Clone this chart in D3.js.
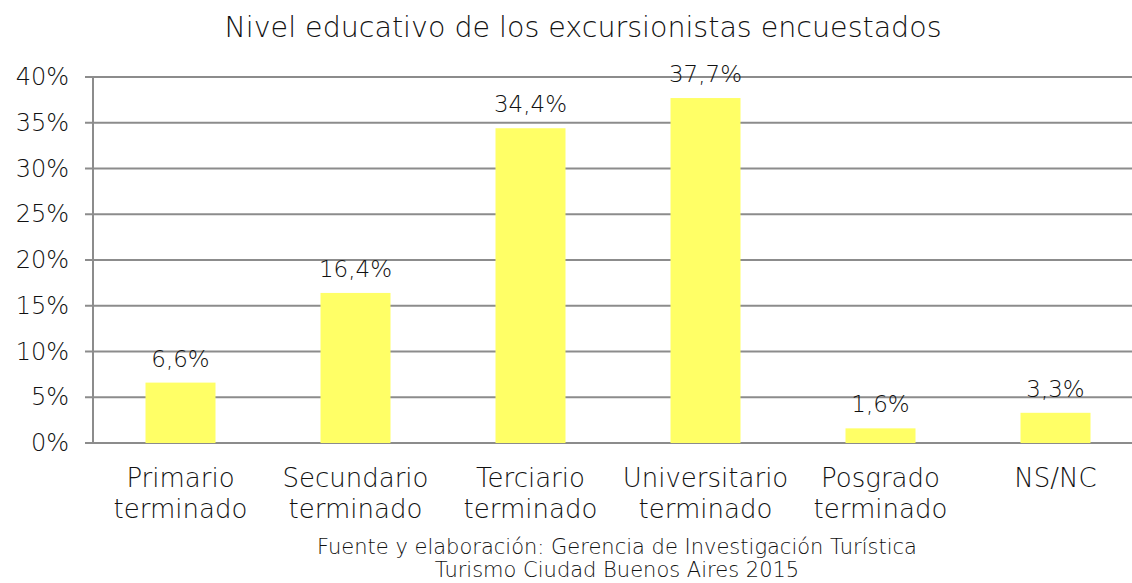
<!DOCTYPE html>
<html><head><meta charset="utf-8">
<script src="https://cdn.jsdelivr.net/npm/d3@7"></script>
<style>
body{margin:0;background:#fff;}
text{font-family:"DejaVu Sans",sans-serif;font-weight:200;fill:#111;}
</style></head>
<body><svg id="c" width="1132" height="583"></svg>
<script>
const categories = [["Primario","terminado"],["Secundario","terminado"],["Terciario","terminado"],["Universitario","terminado"],["Posgrado","terminado"],["NS/NC"]];
const values = [6.6, 16.4, 34.4, 37.7, 1.6, 3.3];
const valueLabels = ["6,6%","16,4%","34,4%","37,7%","1,6%","3,3%"];
const yTicks = [0,5,10,15,20,25,30,35,40];
const title = "Nivel educativo de los excursionistas encuestados";
const footer = ["Fuente y elaboración: Gerencia de Investigación Turística","Turismo Ciudad Buenos Aires 2015"];

const svg = d3.select("#c");
const mLeft = 93, mRight = 1143, mTop = 77, mBottom = 443;
const x = d3.scaleBand().domain(d3.range(categories.length)).range([mLeft,mRight]).paddingInner(0.6).paddingOuter(0.3);
const y = d3.scaleLinear().domain([0,40]).range([mBottom,mTop]);

svg.append("g").selectAll("line").data(yTicks).join("line")
  .attr("x1",85).attr("x2",1132).attr("y1",d=>y(d)).attr("y2",d=>y(d))
  .attr("stroke","#8c8c8c").attr("stroke-width",2);
svg.append("line").attr("x1",mLeft).attr("x2",mLeft).attr("y1",mTop).attr("y2",mBottom).attr("stroke","#8c8c8c").attr("stroke-width",2);

svg.append("g").selectAll("text").data(yTicks).join("text")
  .attr("x",69).attr("y",d=>y(d)+8).attr("text-anchor","end")
  .style("font-size","24px").text(d=>d+"%");

svg.append("g").selectAll("rect").data(values).join("rect")
  .attr("x",(d,i)=>x(i)).attr("width",x.bandwidth())
  .attr("y",d=>y(d)).attr("height",d=>mBottom-y(d)).attr("fill","#ffff66");

svg.append("g").selectAll("text").data(values).join("text")
  .attr("x",(d,i)=>x(i)+x.bandwidth()/2).attr("y",d=>y(d)-16)
  .attr("text-anchor","middle").style("font-size","23px").text((d,i)=>valueLabels[i]);

const cl = svg.append("g").selectAll("text").data(categories).join("text")
  .attr("text-anchor","middle").style("font-size","26px");
cl.each(function(d,i){
  const t = d3.select(this);
  d.forEach((line,j)=>{
    t.append("tspan").attr("x",x(i)+x.bandwidth()/2).attr("y",487+j*31).text(line);
  });
});

svg.append("text").attr("x",583).attr("y",37).attr("text-anchor","middle").style("font-size","28.5px").text(title);
svg.selectAll(".ft").data(footer).join("text").attr("class","ft")
  .attr("x",617).attr("y",(d,i)=>554+i*23).attr("text-anchor","middle").style("font-size","21px").text(d=>d);
</script></body></html>
